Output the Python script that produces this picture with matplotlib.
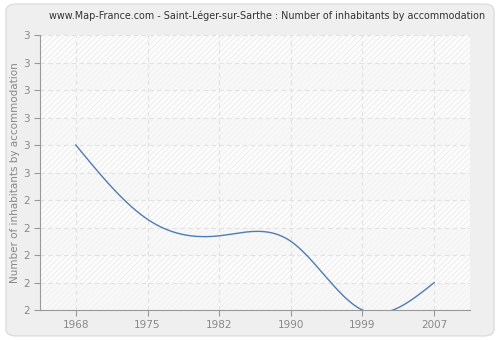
import numpy as np
import matplotlib
matplotlib.use("Agg")
import matplotlib.pyplot as plt
from matplotlib.patches import FancyBboxPatch, Rectangle

years = ["1968", "1975", "1982", "1990", "1999", "2007"]
values = [2.6, 2.33, 2.27, 2.25, 2.0, 2.1]
yticks = [2.0, 2.1, 2.2, 2.3, 2.4, 2.5, 2.6, 2.7, 2.8, 2.9, 3.0]


def natural_spline(x, y, xs):
    # plain natural cubic spline, no scipy needed
    n = len(x)
    h = np.diff(x)
    A = np.zeros((n, n))
    b = np.zeros(n)
    A[0, 0] = A[-1, -1] = 1
    for i in range(1, n - 1):
        A[i, i - 1] = h[i - 1]
        A[i, i] = 2 * (h[i - 1] + h[i])
        A[i, i + 1] = h[i]
        b[i] = 3 * ((y[i + 1] - y[i]) / h[i] - (y[i] - y[i - 1]) / h[i - 1])
    c = np.linalg.solve(A, b)
    out = np.empty_like(xs)
    for k, t in enumerate(xs):
        i = min(max(np.searchsorted(x, t) - 1, 0), n - 2)
        dx = t - x[i]
        bb = (y[i + 1] - y[i]) / h[i] - h[i] * (2 * c[i] + c[i + 1]) / 3
        d = (c[i + 1] - c[i]) / (3 * h[i])
        out[k] = y[i] + bb * dx + c[i] * dx ** 2 + d * dx ** 3
    return out


plt.rcParams['hatch.linewidth'] = 0.5

fig = plt.figure(figsize=(5, 3.4), dpi=100, facecolor='white')
bg = FancyBboxPatch((0.012, 0.012), 0.976, 0.976, boxstyle="round,pad=0,rounding_size=0.02",
                    transform=fig.transFigure, facecolor='#efefef', edgecolor='#dddddd',
                    linewidth=1, zorder=-10)
fig.patches.append(bg)
ax = fig.add_axes([0.08, 0.088, 0.86, 0.809])
ax.set_facecolor('white')

xi = np.arange(len(years), dtype=float)
for i in range(len(yticks) - 1):
    fc = '#f8f8f8' if i % 2 == 0 else '#fcfcfc'
    ax.add_patch(Rectangle((-0.5, yticks[i]), 6, yticks[i + 1] - yticks[i], facecolor=fc,
                           edgecolor='#e8e8e8' if i % 2 == 1 else '#efefef', hatch='//////',
                           linewidth=0, zorder=0))

xs = np.linspace(0, len(years) - 1, 400)
ys = natural_spline(xi, np.array(values), xs)
ax.plot(xs, ys, color='#4f7cb3', linewidth=1, zorder=3, clip_on=True)

ax.set_xlim(-0.5, len(years) - 0.5)
ax.set_ylim(2.0, 3.0)
ax.set_xticks(xi)
ax.set_xticklabels(years)
ax.set_yticks(yticks)
ax.set_yticklabels([str(int(np.floor(v + 0.5))) for v in yticks])
ax.grid(True, color='#e2e2e2', linestyle=(0, (4, 3)), linewidth=0.8, zorder=1)
ax.set_axisbelow(True)

for s in ['top', 'right']:
    ax.spines[s].set_visible(False)
for s in ['left', 'bottom']:
    ax.spines[s].set_color('#999999')
ax.tick_params(colors='#999999', labelcolor='#888888', labelsize=7.5, length=4, width=0.8)
ax.set_ylabel("Number of inhabitants by accommodation", color='#888888', fontsize=7.5, labelpad=2)

fig.text(0.535, 0.955, "www.Map-France.com - Saint-Léger-sur-Sarthe : Number of inhabitants by accommodation",
         ha='center', va='center', fontsize=6.9, color='#333333')

fig.savefig("out.png", dpi=100, facecolor=fig.get_facecolor())
